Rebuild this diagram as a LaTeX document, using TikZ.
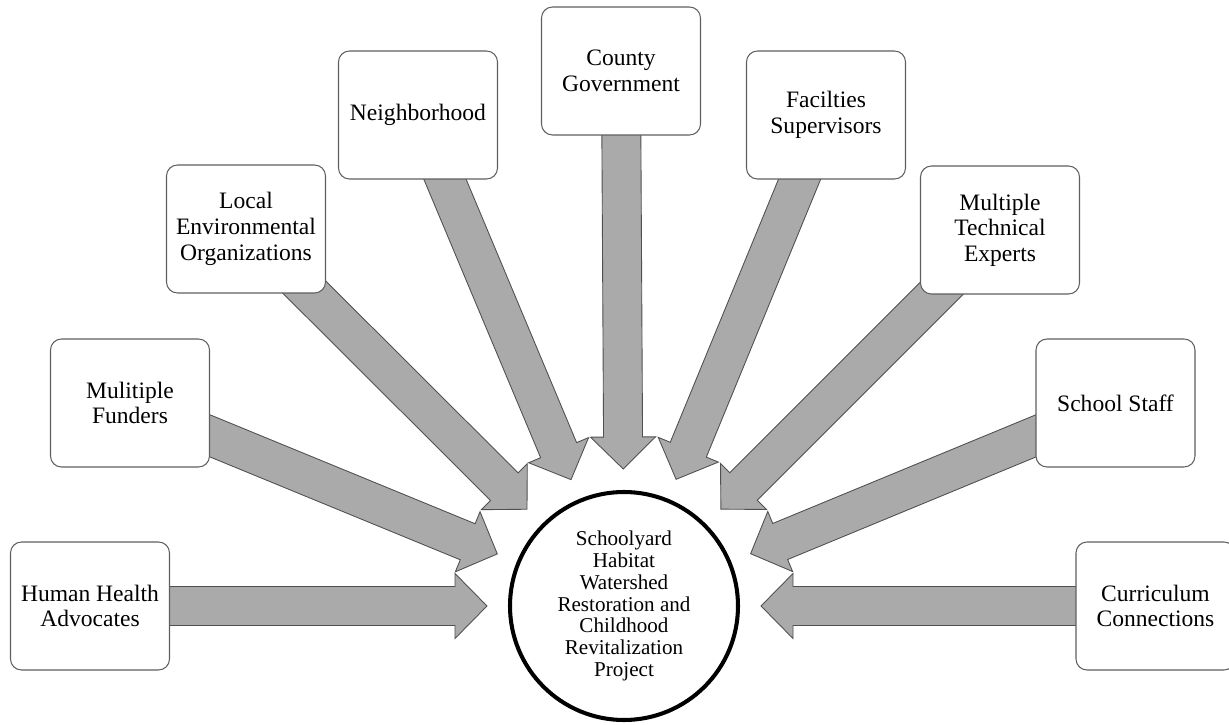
\documentclass[tikz,border=0pt]{standalone}
\usepackage{fontspec}
\setmainfont{Liberation Serif}
\usetikzlibrary{calc,backgrounds}
\definecolor{arrowfill}{RGB}{170,170,170}
\definecolor{arrowline}{RGB}{80,80,80}
\definecolor{boxline}{RGB}{95,95,95}
\begin{document}
\begin{tikzpicture}[font=\fontsize{13.4}{14.6}\selectfont,
        box/.style={draw=boxline, line width=0.6pt, fill=white, rounded corners=0.22cm,
            minimum width=3.18cm, minimum height=2.56cm, align=center, inner sep=2pt},
        hub/.style={draw, circle, line width=2.3pt, fill=white, minimum size=4.56cm, inner sep=0pt,
            align=center, font=\fontsize{12}{12.4}\selectfont},
        blockarrow/.style={draw=arrowline, fill=arrowfill, line width=0.5pt, line join=miter}]
        \useasboundingbox (0,0) rectangle (24.58,14.48);
        \node[hub] (hub) at (12.48,2.36)
            {Schoolyard\\Habitat\\Watershed\\Restoration and\\Childhood\\Revitalization\\Project};
        \foreach \name/\pos/\txt in
            {hha/{1.80,2.36}/{Human Health\\Advocates},
             fund/{2.60,6.42}/{Mulitiple\\Funders},
             leo/{4.92,9.90}/{Local\\Environmental\\Organizations},
             neigh/{8.36,12.18}/{Neighborhood},
             county/{12.42,13.06}/{County\\Government},
             facil/{16.52,12.18}/{Facilties\\Supervisors},
             mte/{20.00,9.88}/{Multiple\\Technical\\Experts},
             staff/{22.31,6.42}/{School Staff},
             curr/{23.11,2.36}/{Curriculum\\Connections}}{
                \node[box] (\name) at (\pos) {\txt};
        }
        % block arrows from every box into the hub
        \begin{scope}[on background layer]
        \foreach \name in {hha,fund,leo,neigh,county,facil,mte,staff,curr}{
                \coordinate (tip) at ($(hub)!2.74cm!(\name)$);
                \coordinate (base) at ($(tip)!0.64cm!(\name)$);
                \draw[blockarrow] ($(\name)!0.39cm!90:(tip)$) -- ($(base)!0.39cm!90:(tip)$)
                    -- ($(base)!0.65cm!90:(tip)$) -- (tip) -- ($(base)!0.65cm!-90:(tip)$)
                    -- ($(base)!0.39cm!-90:(tip)$) -- ($(\name)!0.39cm!-90:(tip)$) -- cycle;
        }
        \end{scope}
        \end{tikzpicture}
\end{document}
